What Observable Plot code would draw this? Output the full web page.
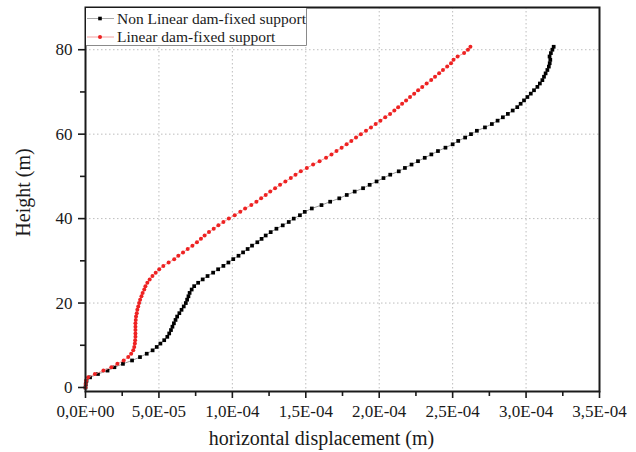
<!DOCTYPE html>
<html>
<head>
<meta charset="utf-8">
<script src="https://cdn.jsdelivr.net/npm/d3@7"></script>
<script src="https://cdn.jsdelivr.net/npm/@observablehq/plot@0.6"></script>
<style>
  html, body { margin: 0; padding: 0; background: #fff; }
  #wrap { position: relative; width: 636px; height: 452px; }
  #legend { position: absolute; left: 0; top: 0; pointer-events: none; }
</style>
</head>
<body>
<div id="wrap"></div>
<script>
// Node heights along the dam (m)
const heights = [
  0, 0.8, 1.6, 2.4, 3.2, 4.0, 4.8, 5.6, 6.4, 7.2,
  8.0, 8.8, 9.6, 10.4, 11.2, 12.0, 12.8, 13.6, 14.4, 15.2,
  16.0, 16.8, 17.6, 18.4, 19.2, 20.0, 20.8, 21.6, 22.4, 23.2,
  24.0, 24.8, 25.6, 26.4, 27.2, 28.0, 28.8, 29.6, 30.4, 31.2,
  32.0, 32.8, 33.6, 34.4, 35.2, 36.0, 36.8, 37.6, 38.4, 39.2,
  40.0, 40.8, 41.6, 42.4, 43.2, 44.0, 44.8, 45.6, 46.4, 47.2,
  48.0, 48.8, 49.6, 50.4, 51.2, 52.0, 52.8, 53.6, 54.4, 55.2,
  56.0, 56.8, 57.6, 58.4, 59.2, 60.0, 60.8, 61.6, 62.4, 63.2,
  64.0, 64.8, 65.6, 66.4, 67.2, 68.0, 68.8, 69.6, 70.4, 71.2,
  72.0, 72.8, 73.6, 74.4, 75.2, 76.0, 76.8, 77.6, 78.4, 79.2,
  80.0, 80.7
];

// Horizontal displacement, in units of 1e-5 m
const nonLinearDisp = [
  0, 0.02, 0.07, 0.31, 0.85, 1.50, 1.97, 2.55, 3.17, 3.71,
  4.17, 4.57, 4.85, 5.10, 5.36, 5.57, 5.70, 5.82, 5.92, 6.02,
  6.13, 6.24, 6.39, 6.54, 6.69, 6.83, 6.92, 7.01, 7.09, 7.23,
  7.40, 7.67, 7.98, 8.31, 8.69, 9.03, 9.39, 9.73, 10.06, 10.42,
  10.73, 11.04, 11.34, 11.70, 11.99, 12.27, 12.61, 13.00, 13.43, 13.84,
  14.18, 14.60, 14.93, 15.41, 16.07, 16.66, 17.28, 17.79, 18.33, 18.90,
  19.35, 19.82, 20.29, 20.75, 21.33, 21.75, 22.20, 22.64, 23.10, 23.55,
  24.00, 24.51, 25.00, 25.38, 25.85, 26.25, 26.65, 27.20, 27.67, 28.06,
  28.42, 28.76, 29.09, 29.40, 29.63, 29.86, 30.09, 30.32, 30.54, 30.77,
  30.94, 31.11, 31.22, 31.33, 31.45, 31.55, 31.61, 31.65, 31.60, 31.69,
  31.79, 31.88
];

const linearDisp = [
  0, 0.01, 0.04, 0.18, 0.64, 1.22, 1.76, 2.17, 2.60, 2.91,
  3.11, 3.25, 3.32, 3.36, 3.38, 3.40, 3.40, 3.40, 3.40, 3.40,
  3.42, 3.44, 3.49, 3.53, 3.59, 3.65, 3.72, 3.81, 3.89, 4.00,
  4.08, 4.21, 4.37, 4.56, 4.78, 5.02, 5.30, 5.66, 6.04, 6.32,
  6.64, 6.96, 7.28, 7.59, 7.86, 8.11, 8.41, 8.73, 9.05, 9.39,
  9.76, 10.16, 10.54, 10.87, 11.29, 11.64, 11.96, 12.27, 12.58, 12.91,
  13.25, 13.61, 13.98, 14.30, 14.66, 15.07, 15.50, 15.94, 16.38, 16.75,
  17.09, 17.44, 17.78, 18.10, 18.42, 18.75, 19.10, 19.44, 19.76, 20.08,
  20.41, 20.74, 21.03, 21.29, 21.56, 21.83, 22.10, 22.38, 22.65, 22.93,
  23.23, 23.54, 23.80, 24.08, 24.34, 24.63, 24.89, 25.06, 25.34, 25.78,
  26.04, 26.21
];

const seriesNames = ["Non Linear dam-fixed support", "Linear dam-fixed support"];

const xTicks = [0, 5e-5, 1e-4, 1.5e-4, 2e-4, 2.5e-4, 3e-4, 3.5e-4];
const xTickLabels = ["0,0E+00", "5,0E-05", "1,0E-04", "1,5E-04", "2,0E-04", "2,5E-04", "3,0E-04", "3,5E-04"];
const xMinorTicks = [2.5e-5, 7.5e-5, 1.25e-4, 1.75e-4, 2.25e-4, 2.75e-4, 3.25e-4];
const yTicks = [0, 20, 40, 60, 80];
const yMinorTicks = [10, 30, 50, 70];

const xLabel = "horizontal displacement (m)";
const yLabel = "Height (m)";

const unit = 1e-5;
const rows = heights.map((h, i) => ({
  h,
  nonLinear: nonLinearDisp[i] * unit,
  linear: linearDisp[i] * unit
}));

const ink = "#1a1a1a";
const serif = "'Liberation Serif', 'Times New Roman', Times, serif";

const chart = Plot.plot({
  width: 636,
  height: 452,
  marginLeft: 85,
  marginRight: 37,
  marginTop: 7,
  marginBottom: 61,
  style: { fontFamily: serif, fontSize: "17px", color: ink, background: "#fff", overflow: "visible" },
  x: { domain: [0, 3.5e-4] },
  y: { domain: [-0.95, 90] },
  marks: [
    Plot.gridX(xTicks.slice(1, -1), { stroke: "#bdbdbd", strokeOpacity: 1, strokeDasharray: "1.5,2.5" }),
    Plot.gridY(yTicks.slice(1), { stroke: "#bdbdbd", strokeOpacity: 1, strokeDasharray: "1.5,2.5" }),
    Plot.line(rows, { x: "nonLinear", y: "h", stroke: "#9a9a9a", strokeWidth: 1 }),
    Plot.dot(rows, { x: "nonLinear", y: "h", symbol: "square", r: 2.1, fill: "#000" }),
    Plot.line(rows, { x: "linear", y: "h", stroke: "#f3a0a0", strokeWidth: 1 }),
    Plot.dot(rows, { x: "linear", y: "h", r: 2, fill: "#ee2222" }),
    Plot.frame({ stroke: ink, strokeWidth: 2 }),
    Plot.axisX({
      ticks: xTicks, tickSize: 7, tickPadding: 6, strokeWidth: 1.6, stroke: ink,
      tickFormat: d => xTickLabels[xTicks.indexOf(d)], label: null, fontSize: 17
    }),
    Plot.axisX({ ticks: xMinorTicks, tickSize: 5, strokeWidth: 1.6, stroke: ink, tickFormat: () => "", label: null }),
    Plot.axisY({
      ticks: yTicks, tickSize: 7, tickPadding: 6, strokeWidth: 1.6, stroke: ink,
      tickFormat: d => String(d), label: null, fontSize: 17
    }),
    Plot.axisY({ ticks: yMinorTicks, tickSize: 5, strokeWidth: 1.6, stroke: ink, tickFormat: () => "", label: null }),
    Plot.text([xLabel], { frameAnchor: "bottom", textAnchor: "middle", lineAnchor: "middle", dx: -21, dy: 47, fontSize: 20, fill: ink }),
    Plot.text([yLabel], { frameAnchor: "left", textAnchor: "middle", lineAnchor: "middle", rotate: -90, dx: -62, dy: -7, fontSize: 20, fill: ink })
  ]
});

const wrap = document.getElementById("wrap");
wrap.appendChild(chart);

// Legend box in the upper-left corner of the plot frame
const ns = "http://www.w3.org/2000/svg";
const legend = document.createElementNS(ns, "svg");
legend.setAttribute("id", "legend");
legend.setAttribute("width", 636);
legend.setAttribute("height", 452);
function el(tag, attrs, text) {
  const e = document.createElementNS(ns, tag);
  for (const k in attrs) e.setAttribute(k, attrs[k]);
  if (text) e.textContent = text;
  legend.appendChild(e);
  return e;
}
el("rect", { x: 86, y: 8, width: 220, height: 37, fill: "#fff" });
el("path", { d: "M306.5,8 V45.5 H86", fill: "none", stroke: "#8a8a8a", "stroke-width": 1 });
const rowsY = [18.5, 37];
const lineColors = ["#a8a8a8", "#f3a0a0"];
rowsY.forEach((y, i) => {
  el("line", { x1: 87, x2: 114, y1: y, y2: y, stroke: lineColors[i], "stroke-width": 1 });
  if (i === 0) el("rect", { x: 98.2, y: y - 1.8, width: 3.6, height: 3.6, fill: "#000" });
  else el("circle", { cx: 100, cy: y, r: 2, fill: "#ee2222" });
  el("text", { x: 117, y: y + 5.3, "font-family": serif, "font-size": 15.5, fill: ink }, seriesNames[i]);
});
wrap.appendChild(legend);
</script>
</body>
</html>
